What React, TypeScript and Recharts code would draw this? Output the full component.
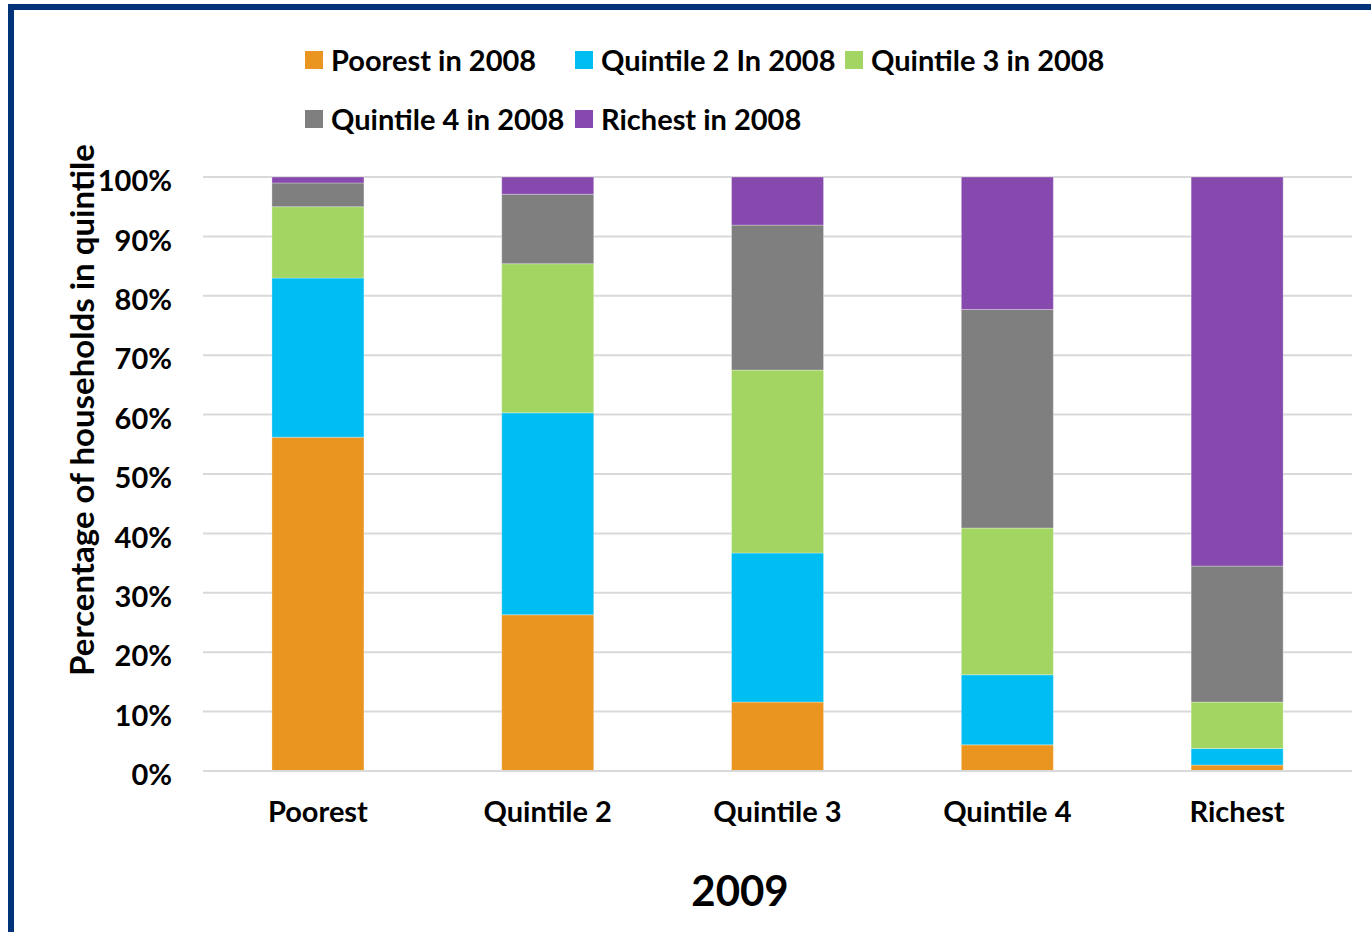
import React from 'react';
import { BarChart, Bar, XAxis, YAxis, CartesianGrid, Legend } from 'recharts';

// Households in each 2009 quintile, split by where they were in 2008 (percent)
const categories = ['Poorest', 'Quintile 2', 'Quintile 3', 'Quintile 4', 'Richest'];
const poorest2008 = [56.2, 26.3, 11.6, 4.4, 1.0];
const quintile2In2008 = [26.8, 34.0, 25.1, 11.8, 2.8];
const quintile3In2008 = [12.0, 25.1, 30.8, 24.7, 7.8];
const quintile4In2008 = [4.0, 11.7, 24.4, 36.8, 22.9];
const richest2008 = [1.0, 2.9, 8.1, 22.3, 65.5];
const yTicks = [0, 10, 20, 30, 40, 50, 60, 70, 80, 90, 100];

const series = [
  { key: 'poorest', name: 'Poorest in 2008', color: '#E9951F', values: poorest2008 },
  { key: 'q2', name: 'Quintile 2 In 2008', color: '#00BDF2', values: quintile2In2008 },
  { key: 'q3', name: 'Quintile 3 in 2008', color: '#A2D562', values: quintile3In2008 },
  { key: 'q4', name: 'Quintile 4 in 2008', color: '#7F7F7F', values: quintile4In2008 },
  { key: 'richest', name: 'Richest in 2008', color: '#8649AE', values: richest2008 },
];

const data = categories.map((name, i) => {
  const row: Record<string, string | number> = { name };
  series.forEach((s) => {
    row[s.key] = s.values[i];
  });
  return row;
});

const FONT = 'Lato, "Open Sans", sans-serif';

// two rows of 59px; the chart pushes the plot down by this much
const LegendGrid = ({ payload }: any) => (
  <div
    style={{
      display: 'grid',
      gridTemplateColumns: '270px 270px 270px',
      gridAutoRows: '59px',
      fontFamily: FONT,
      fontWeight: 700,
      fontSize: 29,
      color: '#000',
    }}
  >
    {(payload || []).map((entry: any) => (
      <div key={entry.value} style={{ display: 'flex', alignItems: 'center', whiteSpace: 'nowrap' }}>
        <span style={{ width: 18, height: 18, background: entry.color, marginRight: 8, flexShrink: 0 }} />
        <span>{entry.value}</span>
      </div>
    ))}
  </div>
);

const YLabel = () => (
  <text
    transform="translate(81,410) rotate(-90)"
    textAnchor="middle"
    dominantBaseline="central"
    fontFamily={FONT}
    fontWeight={700}
    fontSize={33}
    fill="#000"
  >
    Percentage of households in quintile
  </text>
);

export default function App() {
  return (
    <div style={{ position: 'absolute', left: 0, top: 0, width: 1371, height: 932, background: '#fff', overflow: 'hidden' }}>
      <div
        style={{
          position: 'absolute',
          left: 8,
          top: 4,
          width: 1363,
          height: 928,
          boxSizing: 'border-box',
          borderLeft: '6px solid #003378',
          borderTop: '6px solid #003378',
        }}
      />
      <div style={{ position: 'absolute', left: 0, top: 0 }}>
        <BarChart
          width={1371}
          height={932}
          data={data}
          margin={{ top: 59, right: 19, left: 103, bottom: 101 }}
          barCategoryGap="30%"
        >
          <CartesianGrid vertical={false} stroke="#D9D9D9" strokeWidth={2} />
          <XAxis
            dataKey="name"
            height={60}
            axisLine={{ stroke: '#D9D9D9', strokeWidth: 2 }}
            tickLine={false}
            tickSize={0}
            tickMargin={30}
            tick={{ fontFamily: FONT, fontWeight: 700, fontSize: 29, fill: '#000' }}
          />
          <YAxis
            width={100}
            domain={[0, 100]}
            ticks={yTicks}
            tickFormatter={(v: number) => `${v}%`}
            axisLine={false}
            tickLine={false}
            tickSize={0}
            tickMargin={31}
            interval={0}
            tick={{ fontFamily: FONT, fontWeight: 700, fontSize: 29, fill: '#000', dy: 4 }}
            label={{ content: <YLabel /> }}
          />
          <Legend
            verticalAlign="top"
            content={<LegendGrid />}
            wrapperStyle={{ position: 'absolute', top: 30, left: 305, width: 820, height: 118 }}
          />
          {series.map((s) => (
            <Bar
              key={s.key}
              dataKey={s.key}
              name={s.name}
              stackId="total"
              fill={s.color}
              stroke="#ffffff"
              strokeOpacity={0.3}
              strokeWidth={1}
              isAnimationActive={false}
            />
          ))}
        </BarChart>
      </div>
      <div
        style={{
          position: 'absolute',
          left: 640,
          width: 200,
          top: 862,
          textAlign: 'center',
          fontFamily: FONT,
          fontWeight: 700,
          fontSize: 42,
          lineHeight: '56px',
          color: '#000',
        }}
      >
        2009
      </div>
    </div>
  );
}
